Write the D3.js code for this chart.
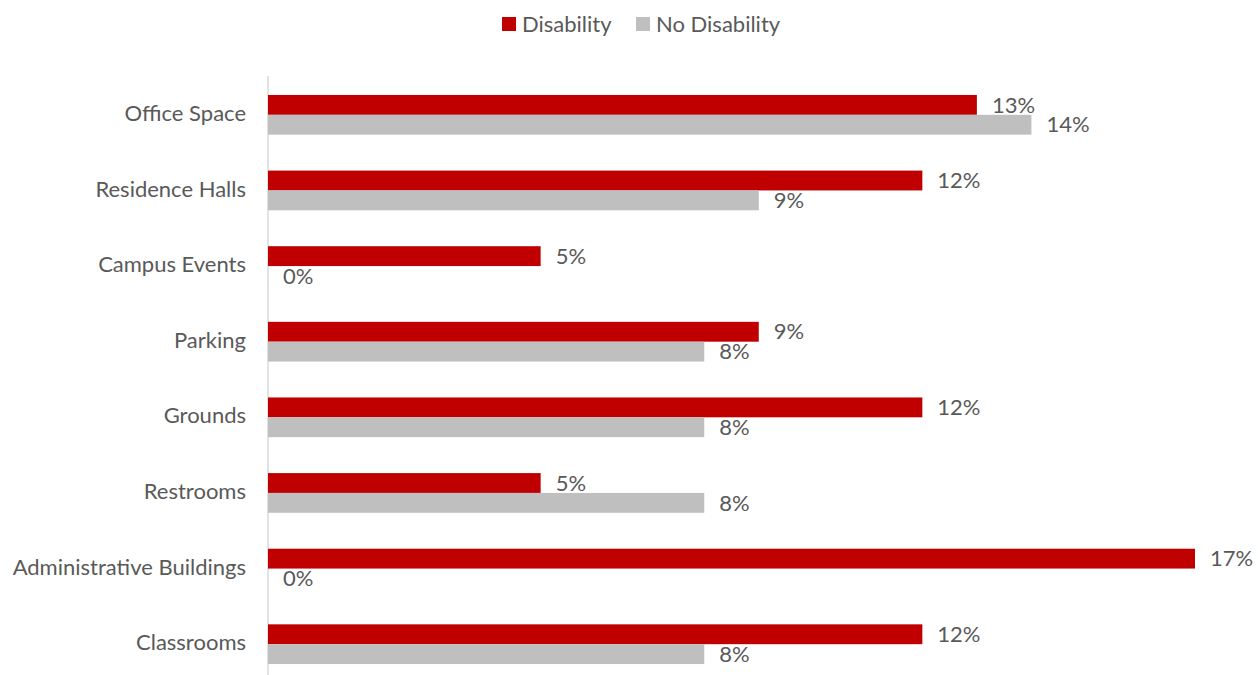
<!DOCTYPE html>
<html>
<head>
<meta charset="utf-8">
<script src="https://cdn.jsdelivr.net/npm/d3@7"></script>
<style>
  body { margin: 0; background: #fff; }
  svg text { font-family: Lato, "Open Sans", sans-serif; fill: #595959; }
</style>
</head>
<body>
<div id="chart"></div>
<script>
// data
const categories = ['Office Space', 'Residence Halls', 'Campus Events', 'Parking',
  'Grounds', 'Restrooms', 'Administrative Buildings', 'Classrooms'];
const disability   = [13, 12, 5, 9, 12, 5, 17, 12];
const noDisability = [14, 9, 0, 8, 8, 8, 0, 8];
const seriesNames  = ['Disability', 'No Disability'];
const colors       = ['#C00000', '#BFBFBF'];

const width = 1258, height = 675;
const fontSize = 22;
const rows = categories.map((c, i) => ({ cat: c, values: [disability[i], noDisability[i]] }));

const svg = d3.select('#chart').append('svg')
    .attr('width', width).attr('height', height);

const x = d3.scaleLinear().domain([0, 17]).range([268, 1195]);
const y0 = d3.scaleBand().domain(categories).range([77, 682])
    .paddingInner(0.475).paddingOuter(0.2375);
const y1 = d3.scaleBand().domain(seriesNames).range([0, y0.bandwidth()]);

// axis line
svg.append('line')
    .attr('x1', x(0)).attr('x2', x(0))
    .attr('y1', 76).attr('y2', height)
    .attr('stroke', '#D9D9D9').attr('stroke-width', 1.5);

// category labels
svg.append('g').selectAll('text')
  .data(categories)
  .enter().append('text')
    .attr('x', 246)
    .attr('y', d => y0(d) + y0.bandwidth()/2)
    .attr('dy', '0.28em')
    .attr('text-anchor', 'end')
    .attr('font-size', fontSize)
    .text(d => d);

const groups = svg.append('g').selectAll('g')
  .data(rows)
  .enter().append('g')
    .attr('transform', d => `translate(0,${y0(d.cat)})`);

groups.selectAll('rect')
  .data(d => d.values.map((v, i) => ({ v, i })))
  .enter().append('rect')
    .attr('x', x(0))
    .attr('y', d => y1(seriesNames[d.i]))
    .attr('width', d => x(d.v) - x(0))
    .attr('height', y1.bandwidth())
    .attr('fill', d => colors[d.i]);

groups.selectAll('text')
  .data(d => d.values.map((v, i) => ({ v, i })))
  .enter().append('text')
    .attr('x', d => x(d.v) + 15)
    .attr('y', d => y1(seriesNames[d.i]) + y1.bandwidth()/2)
    .attr('dy', '0.35em')
    .attr('font-size', fontSize)
    .text(d => d.v + '%');

// legend
const legendX = [502, 636];
const legend = svg.append('g').selectAll('g')
  .data(seriesNames)
  .enter().append('g')
    .attr('transform', (d, i) => `translate(${legendX[i]},17)`);
legend.append('rect')
    .attr('width', 14).attr('height', 14)
    .attr('fill', (d, i) => colors[i]);
legend.append('text')
    .attr('x', 20).attr('y', 7).attr('dy', '0.35em')
    .attr('font-size', fontSize)
    .text(d => d);
</script>
</body>
</html>
